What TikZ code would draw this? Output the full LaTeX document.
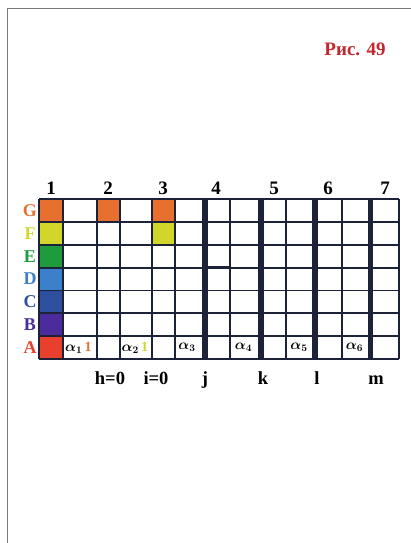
\documentclass[tikz,border=0pt]{standalone}
\usepackage{fontspec}
\setmainfont{Liberation Serif}
\definecolor{gridc}{HTML}{1C2338}
\definecolor{pagec}{HTML}{7A7A7A}
\definecolor{titlec}{HTML}{C4262E}
\definecolor{cG}{HTML}{E8702E}
\definecolor{cF}{HTML}{D2D62A}
\definecolor{cE}{HTML}{1F9A3C}
\definecolor{cD}{HTML}{3C80CC}
\definecolor{cC}{HTML}{2E4E9E}
\definecolor{cB}{HTML}{4C2C9C}
\definecolor{cA}{HTML}{E8402C}
\begin{document}
\begin{tikzpicture}[x=1pt, y=-1pt,
  gl/.style={draw=gridc, line width=1.8pt},
  sepline/.style={draw=gridc, line width=5.5pt},
  rowlab/.style={font=\bfseries\fontsize{18}{18}\selectfont},
  collab/.style={font=\bfseries\fontsize{19}{19}\selectfont},
  botlab/.style={font=\bfseries\fontsize{18.5}{18.5}\selectfont},
  alab/.style={font=\bfseries\fontsize{14}{14}\selectfont\boldmath, inner sep=0pt}]
\useasboundingbox (0,0) rectangle (411,543);
% page frame
\draw[pagec, line width=1.8pt] (7.5,543) -- (7.5,8.5) -- (411,8.5);
\node[text=titlec, font=\bfseries\fontsize{19}{19}\selectfont] (title) at (355,49) {Рис. 49};
% coloured cells
\foreach \c [count=\k] in {cG,cF,cE,cD,cC,cB,cA}{
  \fill[\c] (39.3,{199.3+22.8*(\k-1)}) rectangle (63.3,{199.3+22.8*\k});
}
\fill[cG] (96.7,199.3) rectangle (120,222.1);
\fill[cG] (151.7,199.3) rectangle (175,222.1);
\fill[cF] (151.7,222.1) rectangle (175,244.9);
% horizontal lines
\foreach \i in {0,...,7}{
  \draw[gl] (39.3,{199.3+22.8*\i}) -- (399,{199.3+22.8*\i});
}
% vertical lines
\foreach \x in {39.3,63.3,96.7,120,151.7,175,230,286,341.7,399}{
  \draw[gl] (\x,199.3) -- (\x,359.1);
}
\foreach \x in {205,261,315,370.7}{
  \draw[sepline] (\x,199.3) -- (\x,359.1);
}
\draw[gridc, line width=2.6pt] (151.7,244.9) -- (175,244.9);
\draw[gridc, line width=2.6pt] (205,267.7) -- (230,267.7);
% column numbers
\foreach \x [count=\n] in {51,108,163,216,274,328,385}{
  \node[collab] (col\n) at (\x,188) {\n};
}
% row letters
\foreach \r/\c [count=\k] in {G/cG,F/cF,E/cE,D/cD,C/cC,B/cB,A/cA}{
  \node[rowlab, text=\c] (row\r) at (30,{199.3+22.8*(\k-0.5)}) {\r};
}
% alpha labels in row A
\node[alab, anchor=west] (a1) at (65,347.7) {$\alpha_1$\,\textcolor{cG}{1}};
\node[alab, anchor=west] (a2) at (121.5,347.7) {$\alpha_2$\,\textcolor{cF}{1}};
\foreach \x/\n in {187/3,243.5/4,299/5,354.5/6}{
  \node[alab] (a\n) at (\x,347.7) {$\alpha_{\n}$};
}
% labels below
\foreach \x/\t/\nm in {110/h=0/h,156/i=0/i,205/j/j,263/k/k,317/l/l,376/m/m}{
  \node[botlab, anchor=base] (lab\nm) at (\x,384) {\t};
}
\end{tikzpicture}
\end{document}
